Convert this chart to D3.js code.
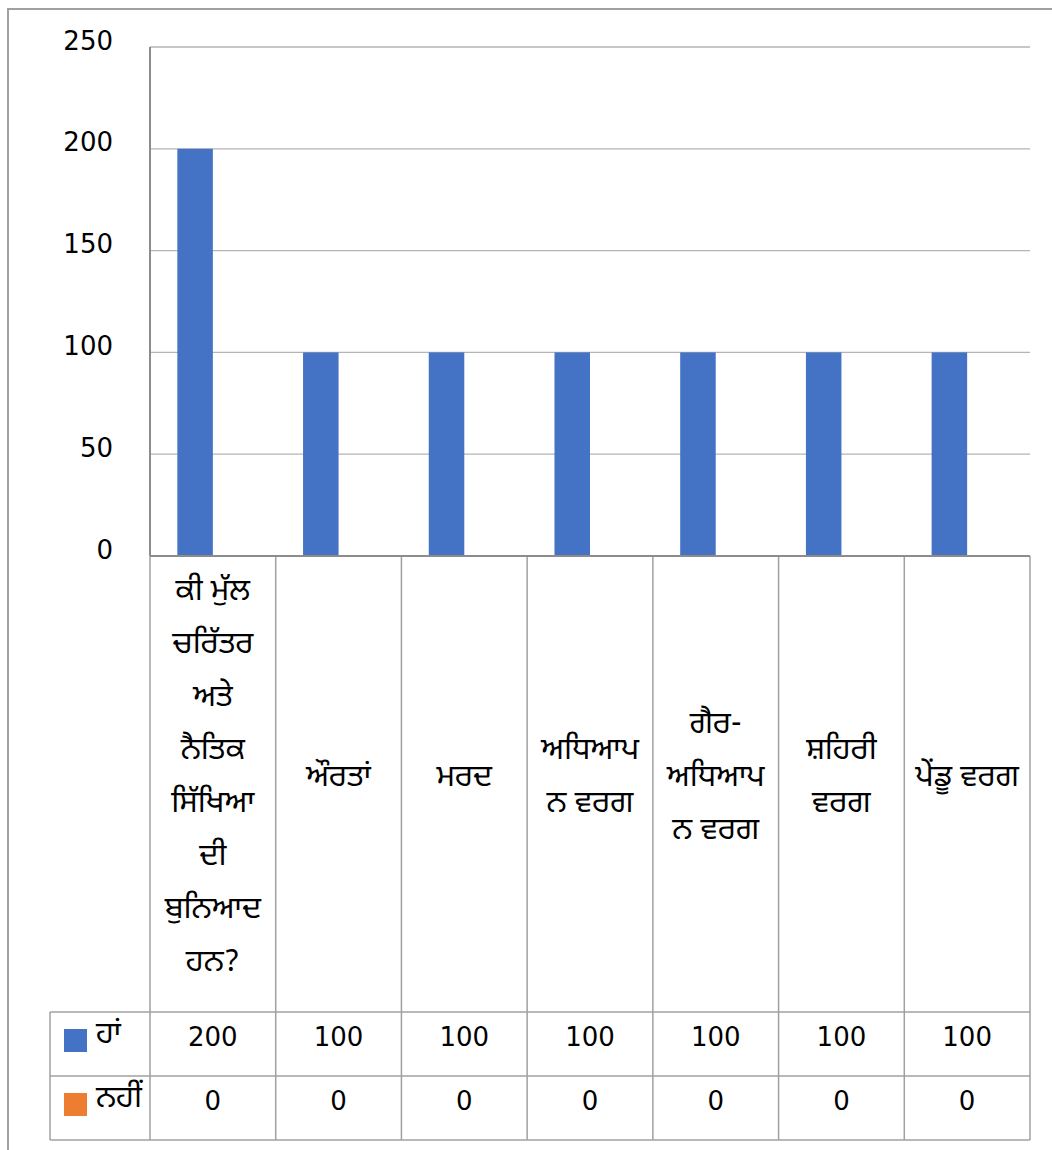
<!DOCTYPE html>
<html>
<head>
<meta charset="utf-8">
<script src="https://d3js.org/d3.v7.min.js"></script>
<style>
  body { margin: 0; background: #fff; }
  svg text { font-family: "DejaVu Sans", "Noto Sans", "Noto Sans Gurmukhi", sans-serif; fill: #000; }
  svg text.pa { font-family: "Noto Sans Gurmukhi", "Noto Sans", sans-serif; }
</style>
</head>
<body>
<div id="chart"></div>
<script>
// categories and their wrapped label lines as shown in the data table
const categories = ["q", "women", "men", "teachers", "nonTeachers", "urban", "rural"];
const categoryLines = [
  ["ਕੀ ਮੁੱਲ", "ਚਰਿੱਤਰ", "ਅਤੇ", "ਨੈਤਿਕ", "ਸਿੱਖਿਆ", "ਦੀ", "ਬੁਨਿਆਦ", "ਹਨ?"],
  ["ਔਰਤਾਂ"],
  ["ਮਰਦ"],
  ["ਅਧਿਆਪ", "ਨ ਵਰਗ"],
  ["ਗੈਰ-", "ਅਧਿਆਪ", "ਨ ਵਰਗ"],
  ["ਸ਼ਹਿਰੀ", "ਵਰਗ"],
  ["ਪੇਂਡੂ ਵਰਗ"]
];
const seriesNames = ["ਹਾਂ", "ਨਹੀਂ"];
const seriesColors = ["#4472C4", "#ED7D31"];
const yesValues = [200, 100, 100, 100, 100, 100, 100];
const noValues = [0, 0, 0, 0, 0, 0, 0];
const yTicks = [0, 50, 100, 150, 200, 250];

const W = 1052, H = 1150;
const plotL = 150, plotR = 1030, plotT = 47, plotB = 556;
const tableL = 50, labelRowB = 1012, rowH = 64;
const paSize = 31;

const svg = d3.select("#chart").append("svg")
  .attr("width", W).attr("height", H);

// outer frame (top and left edges visible)
svg.append("path")
  .attr("d", `M8,${H} L8,9 L${W},9`)
  .attr("fill", "none").attr("stroke", "#a0a0a0").attr("stroke-width", 2);

const x = d3.scaleBand().domain(categories).range([plotL, plotR])
  .paddingInner(0.435).paddingOuter(0.2175);
const xs = d3.scaleBand().domain(seriesNames).range([0, x.bandwidth()]);
const y = d3.scaleLinear().domain([0, 250]).range([plotB, plotT]);

// gridlines
svg.append("g").selectAll("line").data(yTicks.filter(d => d > 0)).join("line")
  .attr("x1", plotL).attr("x2", plotR)
  .attr("y1", d => y(d)).attr("y2", d => y(d))
  .attr("stroke", "#b4b4b4").attr("stroke-width", 1.3);

// y tick labels
svg.append("g").selectAll("text").data(yTicks).join("text")
  .attr("x", 113).attr("y", d => y(d) - 5)
  .attr("text-anchor", "end").attr("dominant-baseline", "middle")
  .attr("font-size", 26).text(d => d);

// bars
const series = [yesValues, noValues];
series.forEach((vals, si) => {
  svg.append("g").selectAll("rect").data(vals).join("rect")
    .attr("x", (d, i) => x(categories[i]) + xs(seriesNames[si]))
    .attr("width", xs.bandwidth())
    .attr("y", d => y(d))
    .attr("height", d => y(0) - y(d))
    .attr("fill", seriesColors[si]);
});

// axes lines
svg.append("line").attr("x1", plotL).attr("x2", plotL)
  .attr("y1", plotT).attr("y2", plotB)
  .attr("stroke", "#8c8c8c").attr("stroke-width", 2);

// data table grid
const grid = svg.append("g").attr("stroke", "#a0a0a0").attr("stroke-width", 1.5);
const bounds = categories.map(c => x(c) - x.step() * x.paddingInner() / 2).concat([plotR]);
const tableB = labelRowB + 2 * rowH;
grid.selectAll("line.v").data(bounds).join("line").attr("class", "v")
  .attr("x1", d => d).attr("x2", d => d)
  .attr("y1", plotB).attr("y2", tableB);
grid.append("line").attr("x1", tableL).attr("x2", tableL).attr("y1", labelRowB).attr("y2", tableB);
[labelRowB, labelRowB + rowH, tableB].forEach(yy => {
  grid.append("line").attr("x1", tableL).attr("x2", plotR).attr("y1", yy).attr("y2", yy);
});
svg.append("line").attr("x1", plotL).attr("x2", plotR)
  .attr("y1", plotB).attr("y2", plotB)
  .attr("stroke", "#8c8c8c").attr("stroke-width", 2);

// category labels
const lineH = 53;
const labelMid = (plotB + labelRowB) / 2 - 8;
categoryLines.forEach((lines, i) => {
  const cx = x(categories[i]) + x.bandwidth() / 2;
  const t = svg.append("text").attr("class", "pa").attr("text-anchor", "middle").attr("font-size", paSize);
  lines.forEach((ln, j) => {
    t.append("tspan").attr("x", cx)
      .attr("y", labelMid + (j - (lines.length - 1) / 2) * lineH)
      .attr("dominant-baseline", "middle").text(ln);
  });
});

// table rows
series.forEach((vals, si) => {
  const rowMid = labelRowB + si * rowH + rowH / 2 - 6;
  svg.append("rect").attr("x", 64).attr("y", rowMid - 9).attr("width", 23).attr("height", 23)
    .attr("fill", seriesColors[si]);
  svg.append("text").attr("class", "pa").attr("x", 96).attr("y", rowMid - 5)
    .attr("dominant-baseline", "middle").attr("font-size", paSize).text(seriesNames[si]);
  svg.append("g").selectAll("text").data(vals).join("text")
    .attr("x", (d, i) => x(categories[i]) + x.bandwidth() / 2)
    .attr("y", rowMid)
    .attr("text-anchor", "middle").attr("dominant-baseline", "middle")
    .attr("font-size", 26).text(d => d);
});
</script>
</body>
</html>
